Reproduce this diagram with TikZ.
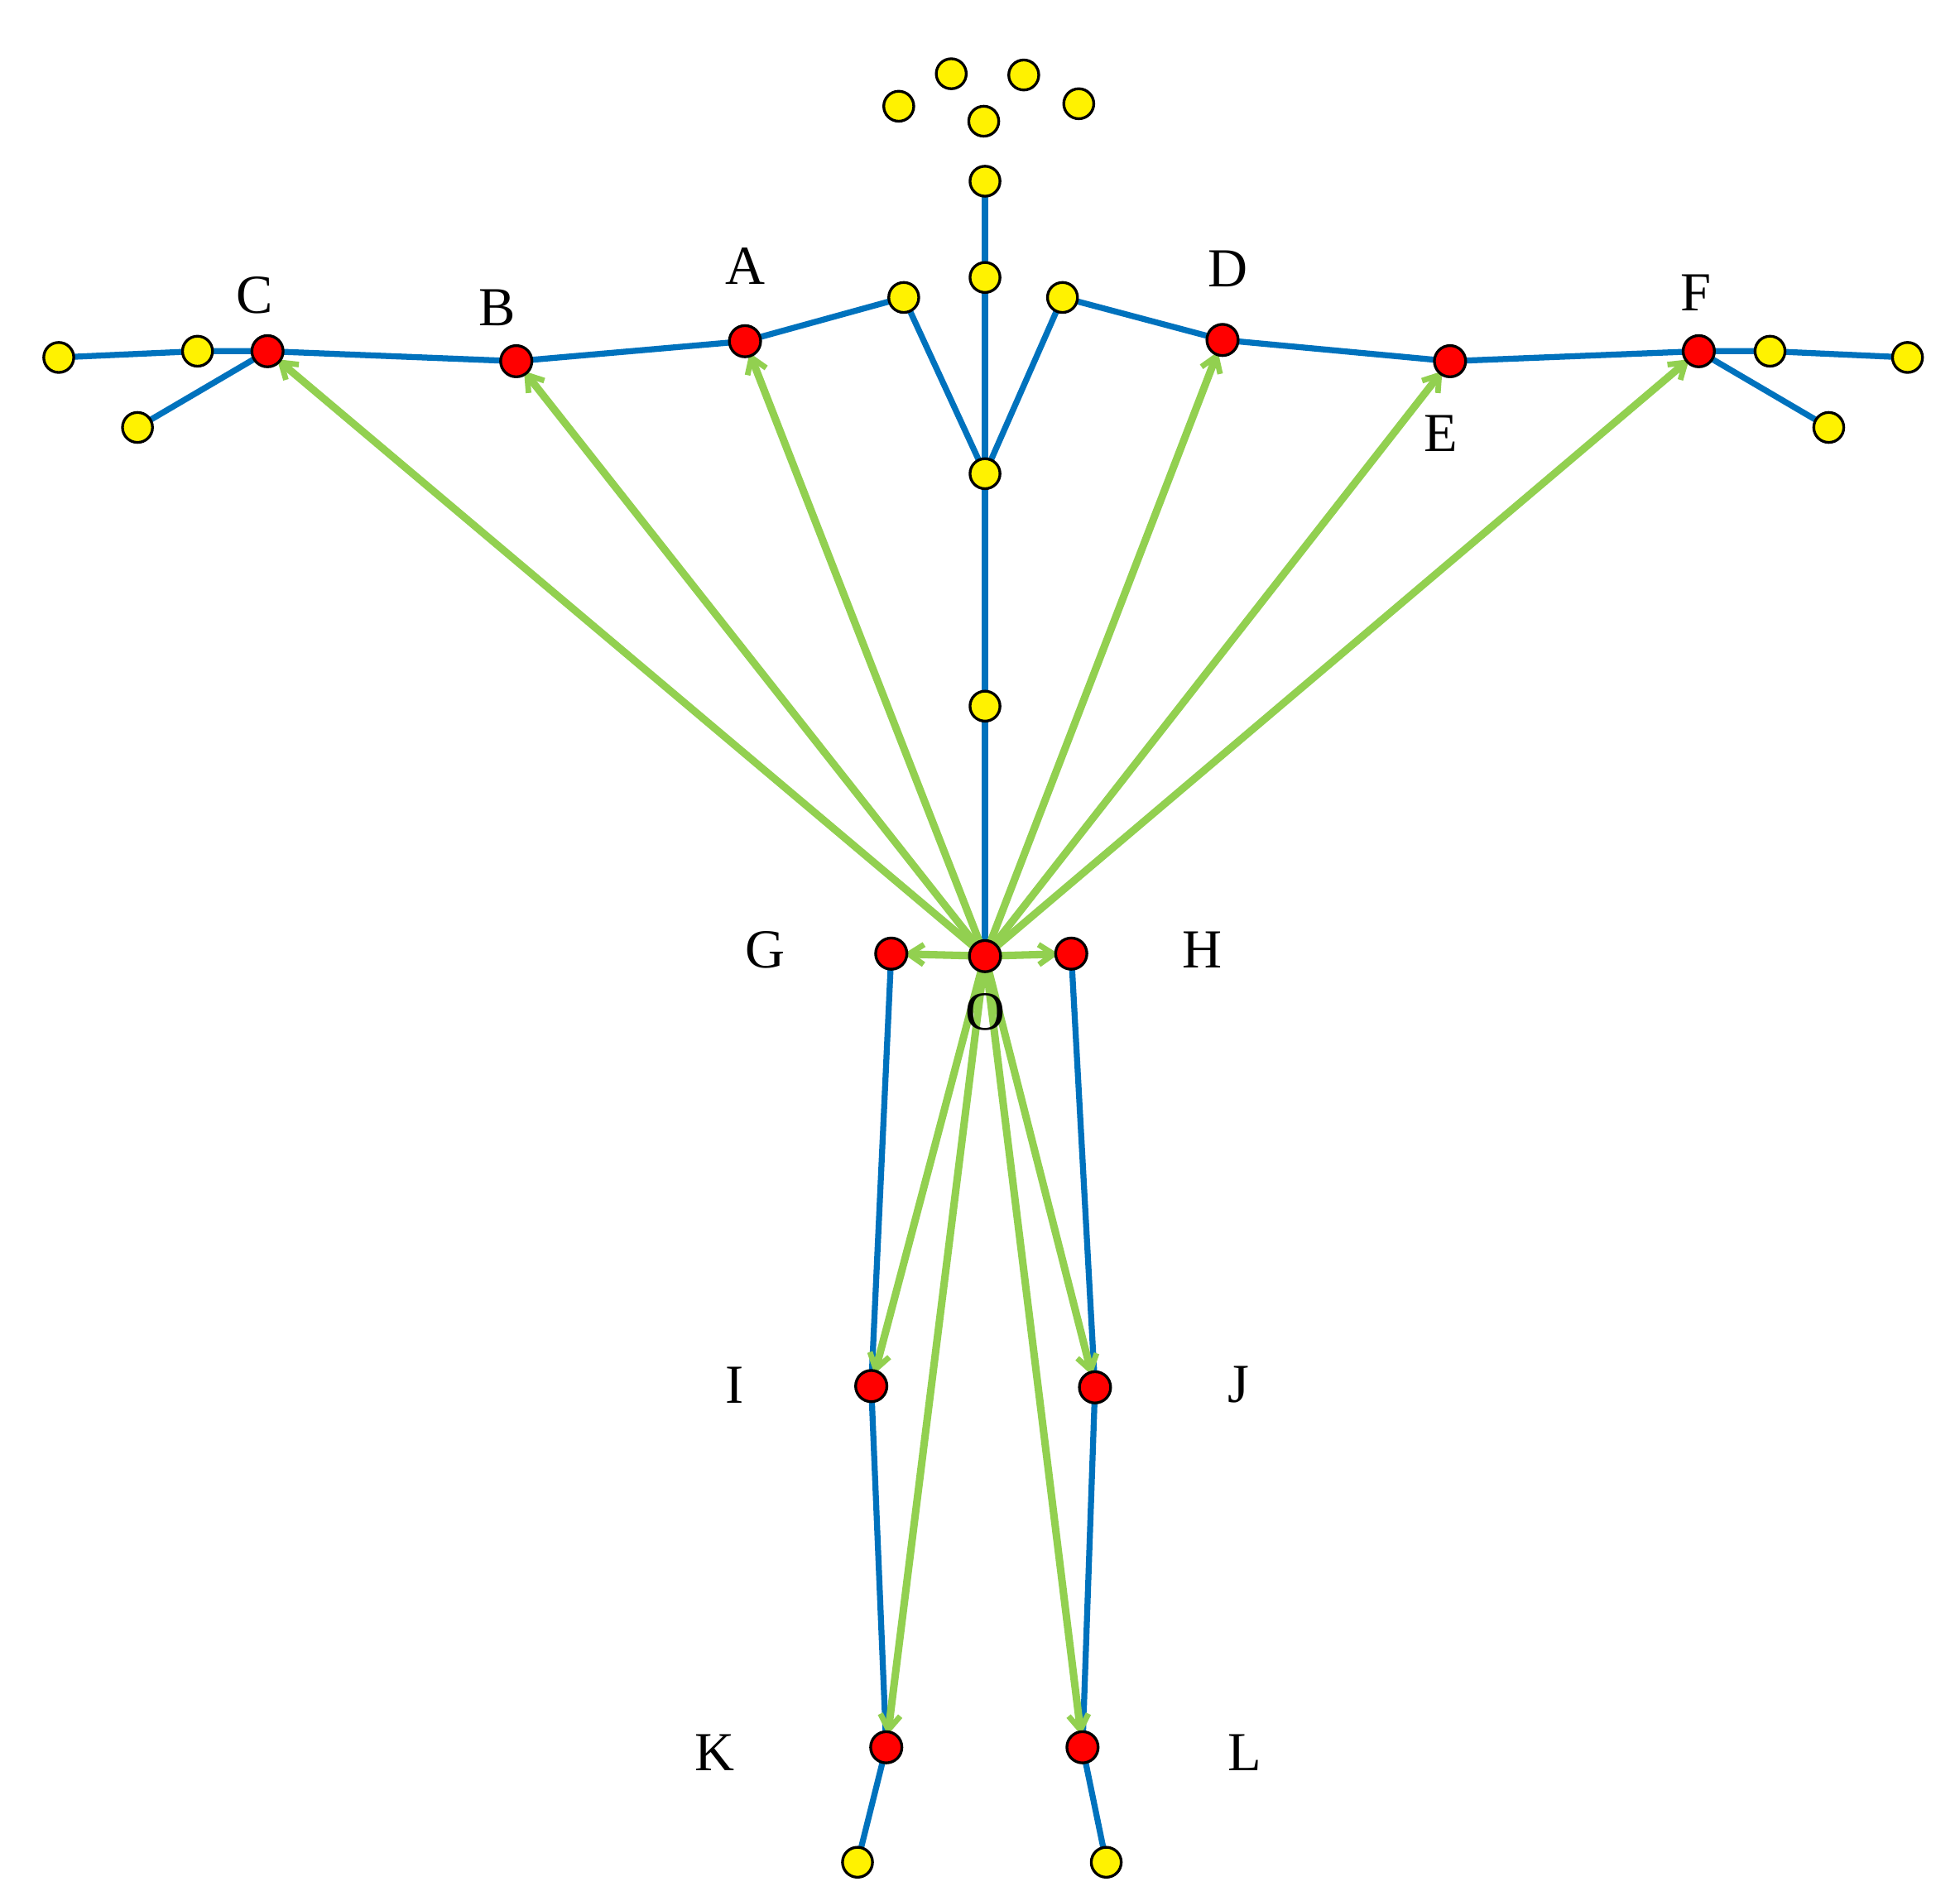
\documentclass[tikz,border=0pt]{standalone}
\usepackage{fontspec}
\setmainfont{Liberation Serif}
\usetikzlibrary{arrows.meta}
\begin{document}
\begin{tikzpicture}[x=1pt,y=-1pt,
 yj/.style={circle,draw=black,line width=2.2pt,fill=yellow,minimum size=24pt,inner sep=0pt},
 rj/.style={circle,draw=black,line width=2.2pt,fill=red,minimum size=25pt,inner sep=0pt},
 bone/.style={draw={rgb,255:red,0;green,114;blue,189},line width=4.8pt},
 vec/.style={draw={rgb,255:red,146;green,208;blue,80},line width=6pt,-{Straight Barb[length=12pt,width=16pt,line width=4.5pt]},shorten >=10pt},
 lab/.style={font=\fontsize{44}{50}\selectfont}]
\useasboundingbox (0,0) rectangle (1568,1517);
\coordinate (h1) at (719,85); \coordinate (h2) at (761,59); \coordinate (h3) at (819,60); \coordinate (h4) at (863,83); \coordinate (h5) at (787,97);
\coordinate (n1) at (788,145); \coordinate (n2) at (788,222);
\coordinate (sl) at (723,238); \coordinate (sr) at (850,238);
\coordinate (sp1) at (788,379); \coordinate (sp2) at (788,565);
\coordinate (O) at (788,765);
\coordinate (A) at (596,273); \coordinate (B) at (413,289); \coordinate (C) at (214,281);
\coordinate (lh1) at (158,281); \coordinate (lh2) at (47,286); \coordinate (lh3) at (110,342);
\coordinate (D) at (978,272); \coordinate (E) at (1160,289); \coordinate (F) at (1359,281);
\coordinate (rh1) at (1416,281); \coordinate (rh2) at (1526,286); \coordinate (rh3) at (1463,342);
\coordinate (G) at (713,763); \coordinate (H) at (857,763);
\coordinate (I) at (697,1109); \coordinate (J) at (876,1110);
\coordinate (K) at (709,1398); \coordinate (L) at (866,1398);
\coordinate (fl) at (686,1490); \coordinate (fr) at (885,1490);
\path[bone] (n1) -- (O);
\path[bone] (sp1) -- (sl) -- (A) -- (B) -- (C) -- (lh1) -- (lh2);
\path[bone] (C) -- (lh3);
\path[bone] (sp1) -- (sr) -- (D) -- (E) -- (F) -- (rh1) -- (rh2);
\path[bone] (F) -- (rh3);
\path[bone] (G) -- (I) -- (K) -- (fl);
\path[bone] (H) -- (J) -- (L) -- (fr);
\foreach \t in {A,B,C,D,E,F,I,J,K,L,G,H}
  \path[vec] (O) -- (\t);
\foreach \p in {h1,h2,h3,h4,h5,n1,n2,sl,sr,sp1,sp2,lh1,lh2,lh3,rh1,rh2,rh3,fl,fr}
  \node[yj] (j\p) at (\p) {};
\foreach \p in {O,A,B,C,D,E,F,G,H,I,J,K,L}
  \node[rj] (j\p) at (\p) {};
\node[lab] (tC) at (204,236) {C};
\node[lab] (tB) at (398,246) {B};
\node[lab] (tA) at (596,213) {A};
\node[lab] (tD) at (982,215) {D};
\node[lab] (tE) at (1153,347) {E};
\node[lab] (tF) at (1357,234) {F};
\node[lab] (tG) at (612,760) {G};
\node[lab] (tH) at (962,760) {H};
\node[lab] (tO) at (788,810) {O};
\node[lab] (tI) at (588,1108) {I};
\node[lab] (tJ) at (991,1108) {J};
\node[lab] (tK) at (572,1402) {K};
\node[lab] (tL) at (996,1402) {L};
\end{tikzpicture}
\end{document}
